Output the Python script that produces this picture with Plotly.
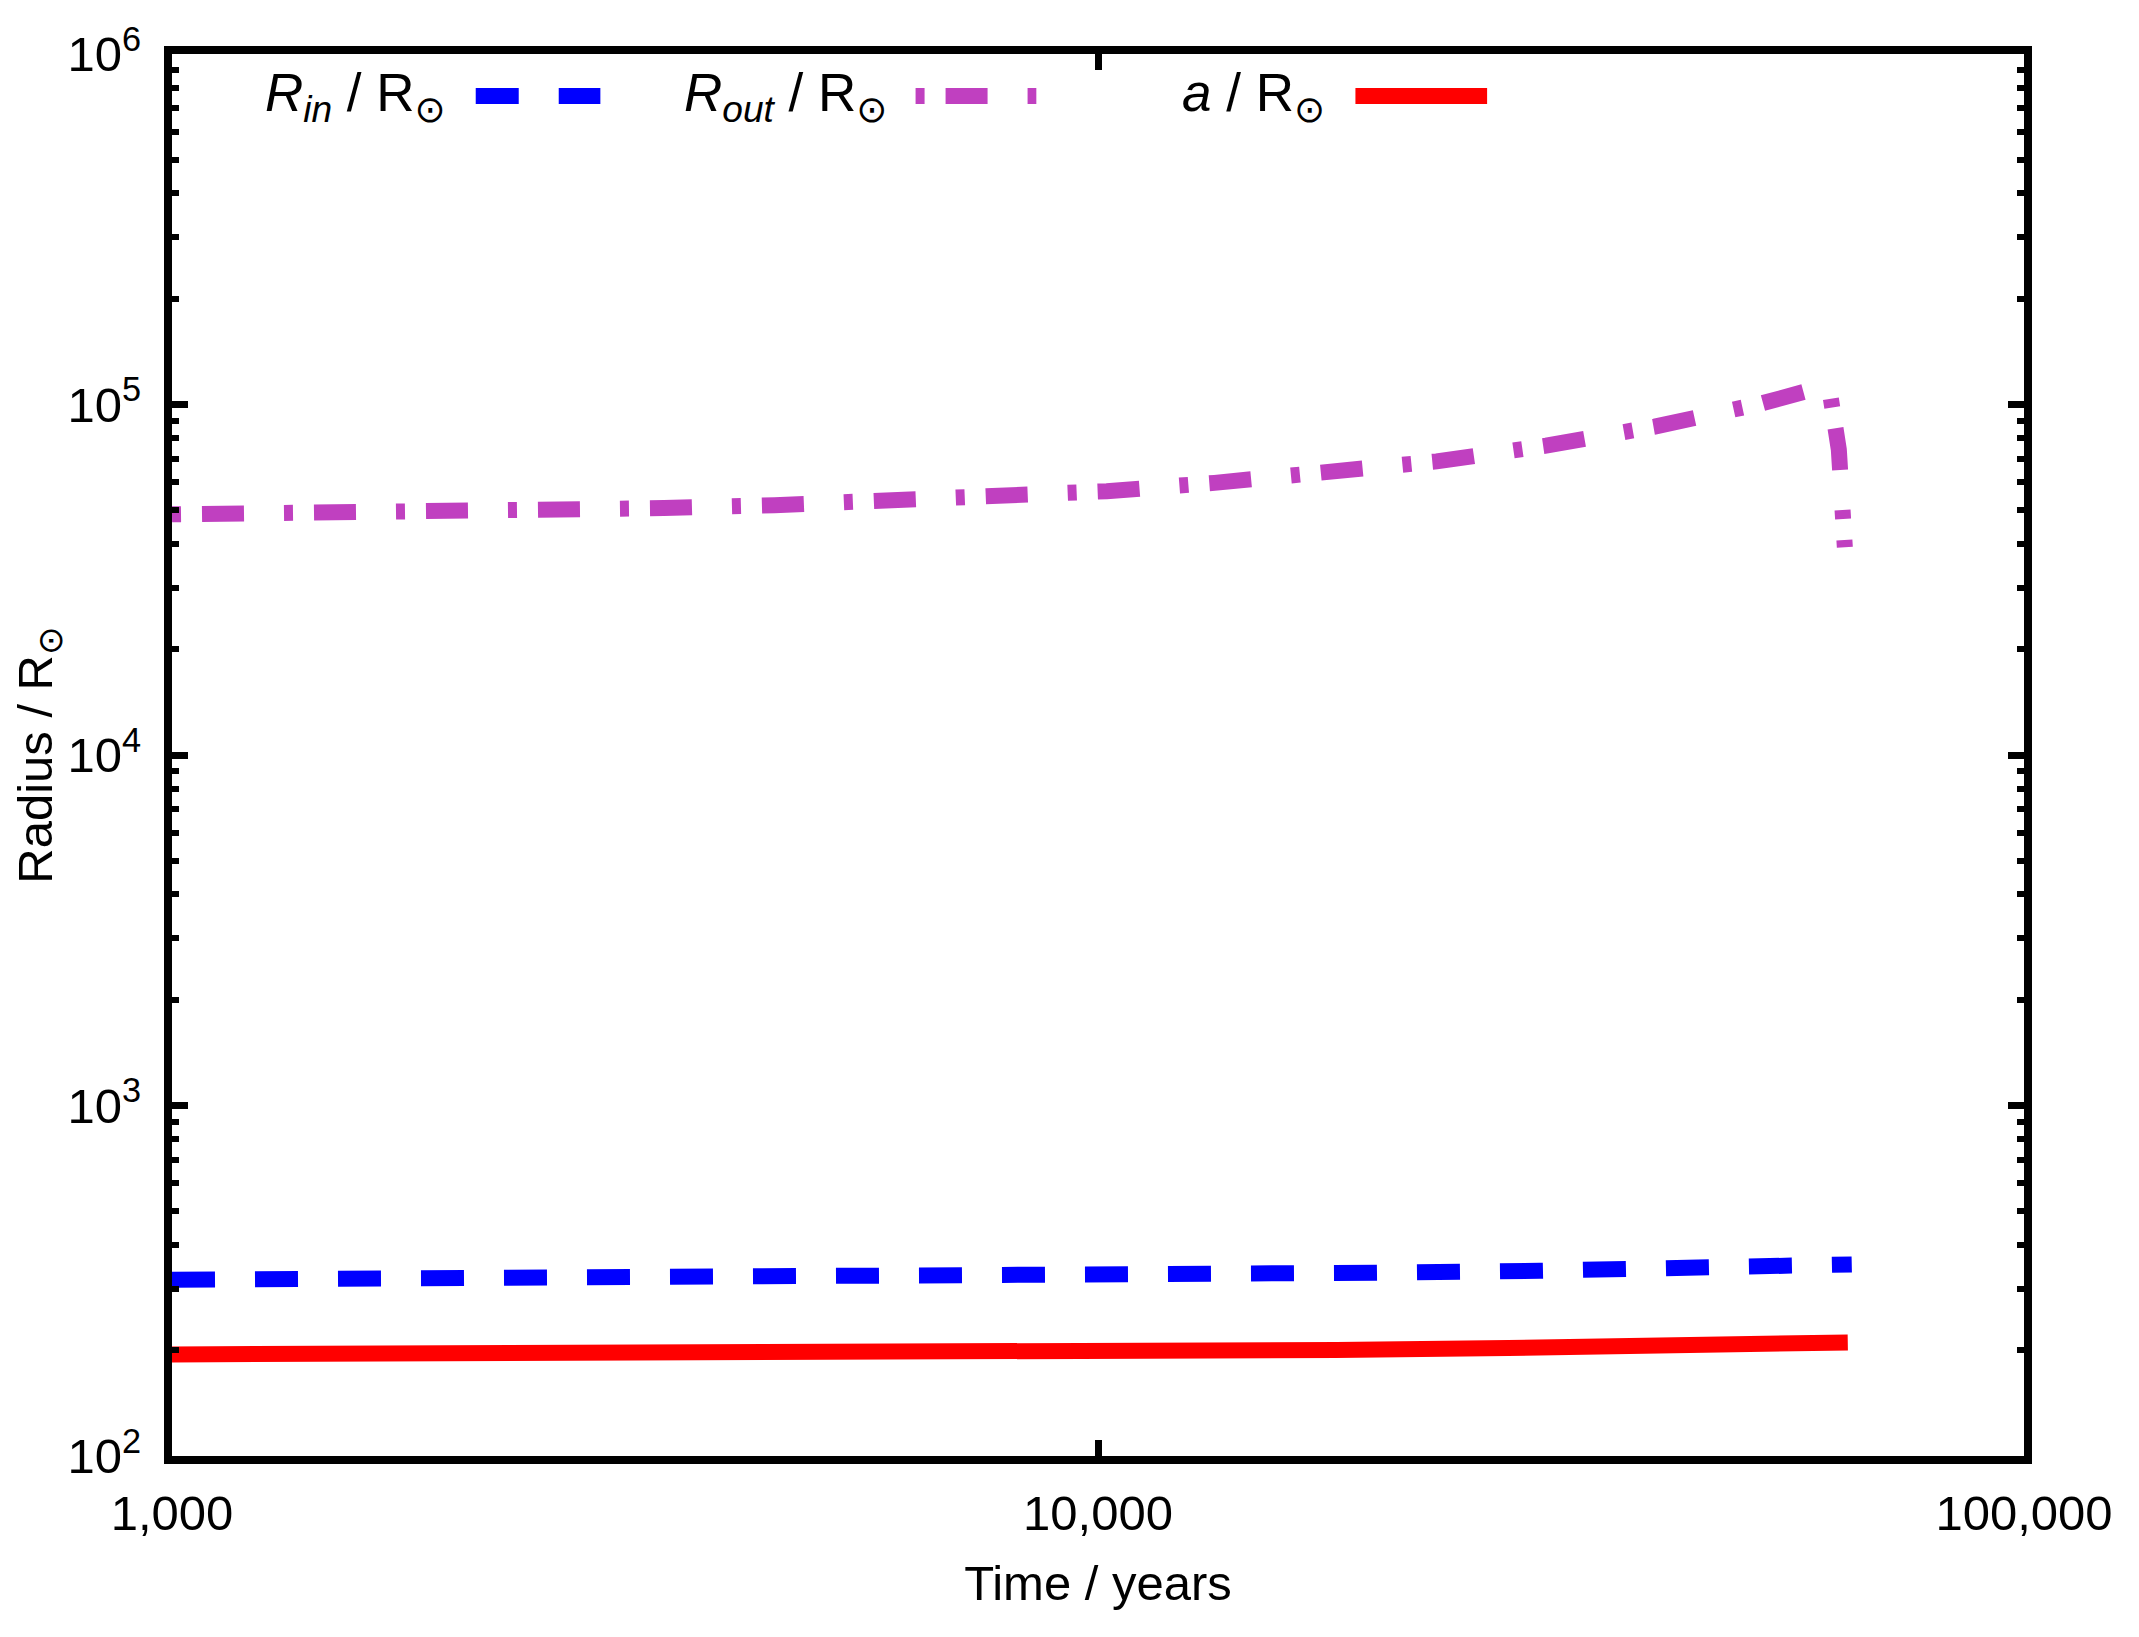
import plotly.graph_objects as go

# R_out / Rsun (dash-dot, magenta)
time_out = [1000, 1494, 1961, 2581, 3398, 4473, 5902, 7789, 10220, 13360, 17540,
            23210, 30470, 39920, 52150, 61540, 63100, 64050]
r_out = [48600, 48920, 49330, 49880, 50630, 51630, 52800, 54650, 56570, 59760, 63390,
         68810, 76280, 86490, 100800, 113600, 74300, 39160]

# R_in / Rsun (dashed, blue)
time_in = [1000, 2000, 4000, 8000, 13000, 20000, 30000, 45000, 60000, 65160]
r_in = [318.4, 320.3, 321.4, 323.5, 328.4, 333.3, 337.7, 343.0, 348.9, 352.1]

# a / Rsun (solid, red)
time_a = [1000, 2726, 6049, 9541, 18070, 27730, 38070, 51260, 64520]
sep_a = [194.9, 195.6, 196.9, 198.2, 200.8, 203.4, 206.1, 208.8, 210.9]

series_names = [
    "<i>R</i><sub><i>in</i></sub> / R<sub>⊙</sub>",
    "<i>R</i><sub><i>out</i></sub> / R<sub>⊙</sub>",
    "<i>a</i> / R<sub>⊙</sub>",
]

x_ticks = [1000, 10000, 100000]
x_tick_labels = ["1,000", "10,000", "100,000"]
y_exponents = [2, 3, 4, 5, 6]

FONT = "Liberation Sans, Arial, DejaVu Sans, sans-serif"
FONT_SIZE = 49
KEY_FONT_SIZE = 53
LINE_W = 16

styles = [
    dict(color="#0000ff", dash="43px,40px"),
    dict(color="#c040c0", dash="9px,21px,42px,40px"),
    dict(color="#ff0000", dash="solid"),
]

fig = go.Figure()
for (t, r), name, st in zip(
    [(time_in, r_in), (time_out, r_out), (time_a, sep_a)], series_names, styles
):
    fig.add_trace(go.Scatter(
        x=t, y=r, mode="lines", name=name, showlegend=False,
        line=dict(color=st["color"], width=LINE_W, dash=st["dash"]),
    ))

# gnuplot style key: text right-aligned, sample to its right
key_text_x = [0.149, 0.3874, 0.6239]
key_sample_x = [(0.1640, 0.2313), (0.4015, 0.4667), (0.6390, 0.7101)]
key_y = 0.970
for name, st, tx, (sx0, sx1) in zip(series_names, styles, key_text_x, key_sample_x):
    fig.add_annotation(
        x=tx, y=key_y, xref="paper", yref="paper", text=name, showarrow=False,
        xanchor="right", yanchor="middle", font=dict(size=KEY_FONT_SIZE, color="black"),
    )
    fig.add_shape(
        type="line", xref="paper", yref="paper", x0=sx0, x1=sx1, y0=key_y, y1=key_y,
        line=dict(color=st["color"], width=LINE_W, dash=st["dash"]),
    )

axis_common = dict(
    type="log", showgrid=False, zeroline=False,
    showline=True, linecolor="black", linewidth=8, mirror="ticks",
    ticks="inside", ticklen=16, tickwidth=7, tickcolor="black",
    tickfont=dict(size=FONT_SIZE, color="black"),
)

fig.update_xaxes(
    **axis_common,
    range=[3, 5],
    tickmode="array", tickvals=x_ticks, ticktext=x_tick_labels,
    ticklabelstandoff=7,
    title=dict(text="Time / years", font=dict(size=FONT_SIZE, color="black"), standoff=30),
)
fig.update_yaxes(
    **axis_common,
    range=[2, 6],
    tickmode="array",
    tickvals=[10 ** e for e in y_exponents],
    ticktext=[f"10<sup>{e}</sup>" for e in y_exponents],
    ticklabelstandoff=13,
    minor=dict(
        ticks="inside", ticklen=7, tickwidth=6, tickcolor="black", showgrid=False,
        tickmode="array",
        tickvals=[m * 10 ** e for e in y_exponents[:-1] for m in range(2, 10)],
    ),
    title=dict(text="Radius / R<sub>⊙</sub>", font=dict(size=FONT_SIZE, color="black"), standoff=8),
)

fig.update_layout(
    width=2139, height=1637,
    margin=dict(l=164, r=123, t=46, b=189),
    plot_bgcolor="white", paper_bgcolor="white",
    font=dict(family=FONT, size=FONT_SIZE, color="black"),
    showlegend=False,
)

fig.write_html("out.html")
